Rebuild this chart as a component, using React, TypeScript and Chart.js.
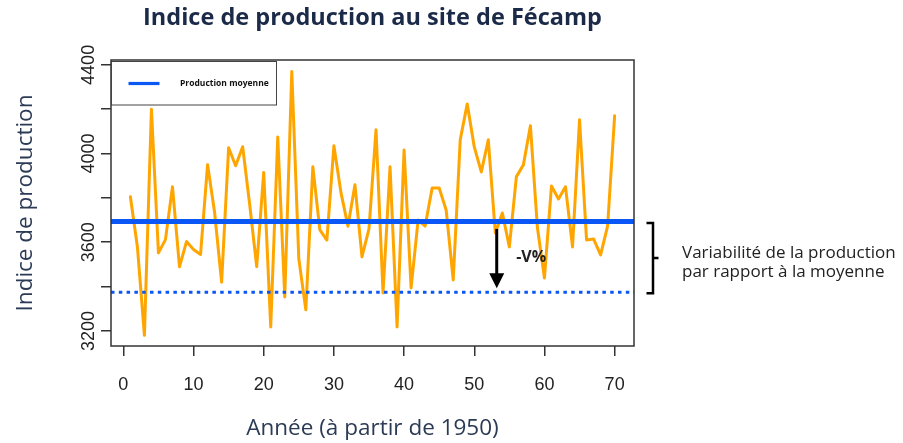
import React, { useEffect, useRef } from "react";
import { Chart, registerables } from "chart.js";

Chart.register(...registerables);

// ---- data ----
const YEARS = [
  1, 2, 3, 4, 5, 6, 7, 8, 9, 10,
  11, 12, 13, 14, 15, 16, 17, 18, 19, 20,
  21, 22, 23, 24, 25, 26, 27, 28, 29, 30,
  31, 32, 33, 34, 35, 36, 37, 38, 39, 40,
  41, 42, 43, 44, 45, 46, 47, 48, 49, 50,
  51, 52, 53, 54, 55, 56, 57, 58, 59, 60,
  61, 62, 63, 64, 65, 66, 67, 68, 69, 70,
];
const PRODUCTION = [
  3805, 3580, 3180, 4200, 3552, 3612, 3850, 3489, 3603, 3567,
  3545, 3950, 3735, 3420, 4026, 3945, 4031, 3770, 3490, 3915,
  3218, 4075, 3353, 4370, 3525, 3295, 3940, 3656, 3610, 4035,
  3825, 3672, 3859, 3534, 3660, 4107, 3371, 3940, 3218, 4016,
  3394, 3700, 3673, 3845, 3845, 3745, 3430, 4062, 4224, 4030,
  3917, 4062, 3642, 3732, 3579, 3895, 3949, 4125, 3665, 3439,
  3854, 3795, 3850, 3579, 4152, 3610, 3615, 3543, 3673, 4170,
];
const MEAN_LEVEL = 3694;
const LOW_LEVEL = 3375;
const ARROW_YEAR = 53.2;

const X_RANGE = [-1.76, 72.76];
const Y_RANGE = [3132, 4422];
const X_TICKS = [0, 10, 20, 30, 40, 50, 60, 70];
const Y_TICKS = [3200, 3400, 3600, 3800, 4000, 4200, 4400];
const Y_LABELED_TICKS = [3200, 3600, 4000, 4400];

const TITLE = "Indice de production au site de Fécamp";
const X_TITLE = "Année (à partir de 1950)";
const Y_TITLE = "Indice de production";
const LEGEND_LABEL = "Production moyenne";
const ARROW_LABEL = "-V%";
const NOTE_LINES = ["Variabilité de la production", "par rapport à la moyenne"];

// ---- styles ----
const BLUE = "#0a57f5";
const ORANGE = "#FFA500";
const NAVY = "#2b3a55";
const TICK_FONT = { family: "'Liberation Sans', Arial, sans-serif", size: 18 };

const overlayPlugin = {
  id: "overlay",
  afterDraw(chart: any) {
    const { ctx, chartArea: a, scales } = chart;
    const xs = scales.x;
    const ys = scales.y;
    const meanPx = ys.getPixelForValue(MEAN_LEVEL);
    const lowPx = ys.getPixelForValue(LOW_LEVEL);
    ctx.save();

    // plot box
    ctx.strokeStyle = "#333";
    ctx.lineWidth = 1.5;
    ctx.strokeRect(a.left, a.top, a.right - a.left, a.bottom - a.top);

    // legend
    const lx = a.left + 0.5;
    const ly = a.top + 1.5;
    ctx.fillStyle = "#fff";
    ctx.fillRect(lx, ly, 165, 43.5);
    ctx.strokeStyle = "#444";
    ctx.lineWidth = 1;
    ctx.strokeRect(lx, ly, 165, 43.5);
    ctx.strokeStyle = BLUE;
    ctx.lineWidth = 3.2;
    ctx.beginPath();
    ctx.moveTo(lx + 17, ly + 22);
    ctx.lineTo(lx + 48, ly + 22);
    ctx.stroke();
    ctx.fillStyle = "#111";
    ctx.font = "bold 8.5px 'Open Sans'";
    ctx.textAlign = "left";
    ctx.textBaseline = "middle";
    ctx.fillText(LEGEND_LABEL, lx + 68.5, ly + 22);

    // arrow
    const ax = xs.getPixelForValue(ARROW_YEAR);
    ctx.strokeStyle = "#000";
    ctx.fillStyle = "#000";
    ctx.lineWidth = 3;
    ctx.beginPath();
    ctx.moveTo(ax, meanPx + 7.5);
    ctx.lineTo(ax, lowPx - 18);
    ctx.stroke();
    ctx.beginPath();
    ctx.moveTo(ax - 7.5, lowPx - 19);
    ctx.lineTo(ax + 7.5, lowPx - 19);
    ctx.lineTo(ax, lowPx - 4);
    ctx.closePath();
    ctx.fill();
    ctx.font = "bold 16px 'Open Sans'";
    ctx.fillStyle = "#222";
    ctx.fillText(ARROW_LABEL, ax + 19.5, (meanPx + lowPx) / 2 + 1);

    // bracket
    const bx = a.right + 19;
    const top = meanPx + 1.5;
    const bottom = lowPx + 1;
    const mid = (top + bottom) / 2;
    ctx.strokeStyle = "#000";
    ctx.lineWidth = 2.5;
    ctx.beginPath();
    ctx.moveTo(bx - 6.5, top);
    ctx.lineTo(bx, top);
    ctx.lineTo(bx, bottom);
    ctx.lineTo(bx - 6.5, bottom);
    ctx.stroke();
    ctx.beginPath();
    ctx.moveTo(bx, mid);
    ctx.lineTo(bx + 5.5, mid);
    ctx.stroke();

    // note
    ctx.fillStyle = "#222";
    ctx.font = "17px 'Open Sans'";
    ctx.fillText(NOTE_LINES[0], a.right + 48, mid - 5);
    ctx.fillText(NOTE_LINES[1], a.right + 48, mid + 14);

    ctx.restore();
  },
};

export default function App() {
  const ref = useRef<HTMLCanvasElement>(null);

  useEffect(() => {
    const canvas = ref.current;
    if (!canvas) return;
    const chart = new Chart(canvas, {
      type: "line",
      data: {
        datasets: [
          {
            label: LEGEND_LABEL,
            data: [
              { x: X_RANGE[0], y: MEAN_LEVEL },
              { x: X_RANGE[1], y: MEAN_LEVEL },
            ],
            borderColor: BLUE,
            borderWidth: 5,
            pointRadius: 0,
            clip: 0,
            order: 1,
          },
          {
            label: "Production moyenne - V%",
            data: [
              { x: X_RANGE[0], y: LOW_LEVEL },
              { x: X_RANGE[1], y: LOW_LEVEL },
            ],
            borderColor: BLUE,
            borderWidth: 3,
            borderDash: [3.5, 4.3],
            borderCapStyle: "butt",
            pointRadius: 0,
            clip: 0,
            order: 2,
          },
          {
            label: Y_TITLE,
            data: YEARS.map((x, i) => ({ x, y: PRODUCTION[i] })),
            borderColor: ORANGE,
            borderWidth: 3,
            borderJoinStyle: "round",
            borderCapStyle: "round",
            pointRadius: 0,
            tension: 0,
            order: 3,
          },
        ],
      },
      options: {
        responsive: false,
        animation: false,
        events: [],
        layout: { padding: { left: 0, right: 269, top: 0, bottom: 0 } },
        plugins: {
          legend: { display: false },
          tooltip: { enabled: false },
          title: {
            display: true,
            text: TITLE,
            fullSize: false,
            color: "#1b2a48",
            font: { family: "'Open Sans'", weight: "bold", size: 23.5 },
            padding: { top: 4, bottom: 27.8 },
          },
        },
        scales: {
          x: {
            type: "linear",
            min: X_RANGE[0],
            max: X_RANGE[1],
            afterBuildTicks: (s: any) => {
              s.ticks = X_TICKS.map((v) => ({ value: v }));
            },
            afterFit: (s: any) => {
              s.height = 97;
            },
            grid: {
              display: true,
              drawOnChartArea: false,
              drawTicks: true,
              tickLength: 10,
              color: "#333",
              lineWidth: 1.5,
            },
            border: { display: false },
            ticks: {
              autoSkip: false,
              maxRotation: 0,
              minRotation: 0,
              font: TICK_FONT,
              color: "#222",
              padding: 18,
            },
            title: {
              display: true,
              text: X_TITLE,
              color: NAVY,
              font: { family: "'Open Sans'", size: 22.5 },
              padding: { top: 0, bottom: 1 },
            },
          },
          y: {
            type: "linear",
            min: Y_RANGE[0],
            max: Y_RANGE[1],
            afterBuildTicks: (s: any) => {
              s.ticks = Y_TICKS.map((v) => ({ value: v }));
            },
            afterFit: (s: any) => {
              s.width = 111;
            },
            grid: {
              display: true,
              drawOnChartArea: false,
              drawTicks: true,
              tickLength: 10,
              color: "#333",
              lineWidth: 1.5,
            },
            border: { display: false },
            ticks: {
              autoSkip: false,
              minRotation: 90,
              maxRotation: 90,
              crossAlign: "center",
              font: TICK_FONT,
              color: "#222",
              padding: -8,
              callback: (v: any) => (Y_LABELED_TICKS.includes(Number(v)) ? String(v) : ""),
            },
            title: {
              display: true,
              text: Y_TITLE,
              color: NAVY,
              font: { family: "'Open Sans'", size: 22.5 },
              padding: { top: 12, bottom: 0 },
            },
          },
        },
      },
      plugins: [overlayPlugin],
    } as any);
    return () => chart.destroy();
  }, []);

  return (
    <div
      style={{
        position: "absolute",
        left: 0,
        top: 0,
        width: 903,
        height: 443,
        background: "#fff",
      }}
    >
      <canvas
        ref={ref}
        width={903}
        height={443}
        style={{ display: "block", width: 903, height: 443 }}
      />
    </div>
  );
}
